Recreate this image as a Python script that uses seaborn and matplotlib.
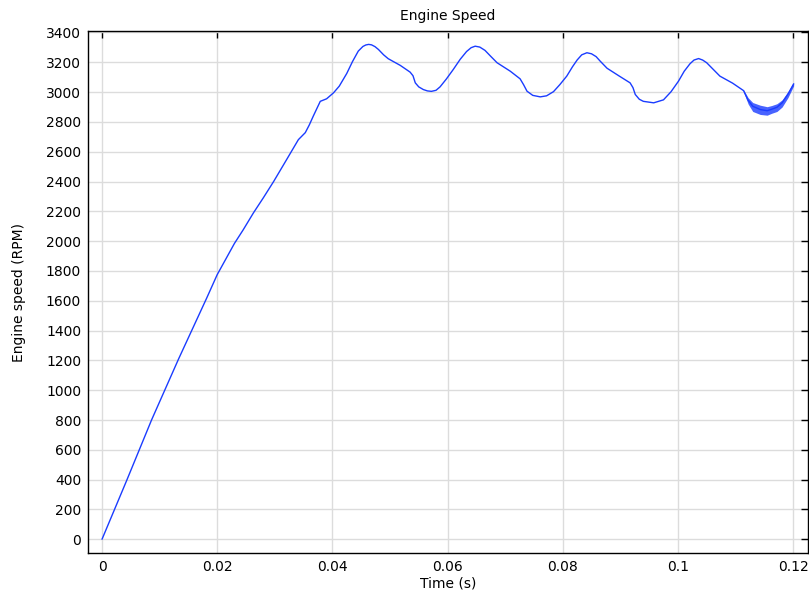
import matplotlib
matplotlib.use("Agg")
import matplotlib.pyplot as plt
from matplotlib.ticker import FuncFormatter, MultipleLocator
import pandas as pd
import seaborn as sns

# Engine speed
time_s = [0.0000, 0.0043, 0.0086, 0.0133, 0.0182, 0.0200, 0.0215, 0.0230,
          0.0245, 0.0263, 0.0280, 0.0298, 0.0321, 0.0341, 0.0353, 0.0360,
          0.0367, 0.0379, 0.0390, 0.0402, 0.0412, 0.0425, 0.0435, 0.0445,
          0.0453, 0.0458, 0.0463, 0.0468, 0.0474, 0.0480, 0.0489, 0.0497,
          0.0518, 0.0535, 0.0540, 0.0544, 0.0550, 0.0558, 0.0565, 0.0572,
          0.0580, 0.0587, 0.0598, 0.0610, 0.0622, 0.0633, 0.0641, 0.0648,
          0.0656, 0.0665, 0.0675, 0.0686, 0.0709, 0.0726, 0.0732, 0.0738,
          0.0748, 0.0761, 0.0772, 0.0784, 0.0795, 0.0807, 0.0817, 0.0825,
          0.0833, 0.0842, 0.0850, 0.0858, 0.0865, 0.0877, 0.0898, 0.0917,
          0.0922, 0.0926, 0.0933, 0.0940, 0.0958, 0.0975, 0.0988, 0.1001,
          0.1011, 0.1021, 0.1028, 0.1036, 0.1043, 0.1050, 0.1062, 0.1073,
          0.1095, 0.1114, 0.1122, 0.1130, 0.1143, 0.1155, 0.1163, 0.1172,
          0.1181, 0.1191, 0.1201]
speed_rpm = [0, 396, 800, 1210, 1620, 1775, 1880, 1985,
             2075, 2190, 2290, 2400, 2550, 2681, 2728, 2780,
             2840, 2938, 2955, 2995, 3040, 3125, 3205, 3275,
             3306, 3316, 3320, 3317, 3305, 3286, 3250, 3224,
             3179, 3134, 3110, 3062, 3035, 3017, 3008, 3005,
             3012, 3035, 3088, 3152, 3220, 3272, 3298, 3308,
             3302, 3280, 3240, 3197, 3140, 3089, 3050, 3006,
             2978, 2968, 2975, 3003, 3050, 3107, 3170, 3215,
             3250, 3264, 3257, 3238, 3208, 3160, 3108, 3062,
             3030, 2984, 2952, 2938, 2928, 2948, 3002, 3073,
             3140, 3190, 3215, 3225, 3215, 3197, 3150, 3107,
             3060, 3010, 2945, 2905, 2883, 2875, 2885, 2898,
             2928, 2985, 3055]

# Jitter envelope at the end of the run
noise_time = [0.1114, 0.1122, 0.1130, 0.1143, 0.1155, 0.1163, 0.1172, 0.1181, 0.1191, 0.1201]
noise_low = [3002, 2920, 2870, 2850, 2845, 2858, 2870, 2900, 2962, 3042]
noise_high = [3016, 2962, 2930, 2912, 2902, 2910, 2922, 2948, 3003, 3066]

x_ticks = [0, 0.02, 0.04, 0.06, 0.08, 0.1, 0.12]

df = pd.DataFrame({"Time (s)": time_s, "Engine speed (RPM)": speed_rpm})

sns.set_theme(style="white")
plt.rcParams["font.family"] = ["DejaVu Sans"]
plt.rcParams["font.size"] = 10

fig = plt.figure(figsize=(8.09, 5.93), dpi=100)
ax = fig.add_axes([0.1088, 0.0675, 0.8900, 0.8795])

line_color = "#1a3cff"
sns.lineplot(data=df, x="Time (s)", y="Engine speed (RPM)", ax=ax,
             color=line_color, linewidth=1.0, sort=False, estimator=None)
ax.fill_between(noise_time, noise_low, noise_high, color=line_color,
                alpha=0.8, linewidth=0)

ax.set_xlim(-0.00243, 0.1226)
ax.set_ylim(-92, 3407)
ax.set_xticks(x_ticks)
ax.xaxis.set_major_formatter(FuncFormatter(lambda v, _: f"{v:g}"))
ax.yaxis.set_major_locator(MultipleLocator(200))

ax.grid(True, color="#dcdcdc", linewidth=1.0)
ax.set_axisbelow(True)
for spine in ax.spines.values():
    spine.set_color("black")
    spine.set_linewidth(1.0)

ax.tick_params(direction="in", length=5, width=1, color="black",
               top=True, right=True, labelsize=10, pad=5, labelcolor="black")

ax.set_title("Engine Speed", fontsize=10, pad=8, color="black")
ax.set_xlabel("Time (s)", fontsize=10, labelpad=2, color="black")
ax.set_ylabel("Engine speed (RPM)", fontsize=10, labelpad=14, color="black")

plt.savefig("out.png", dpi=100)
